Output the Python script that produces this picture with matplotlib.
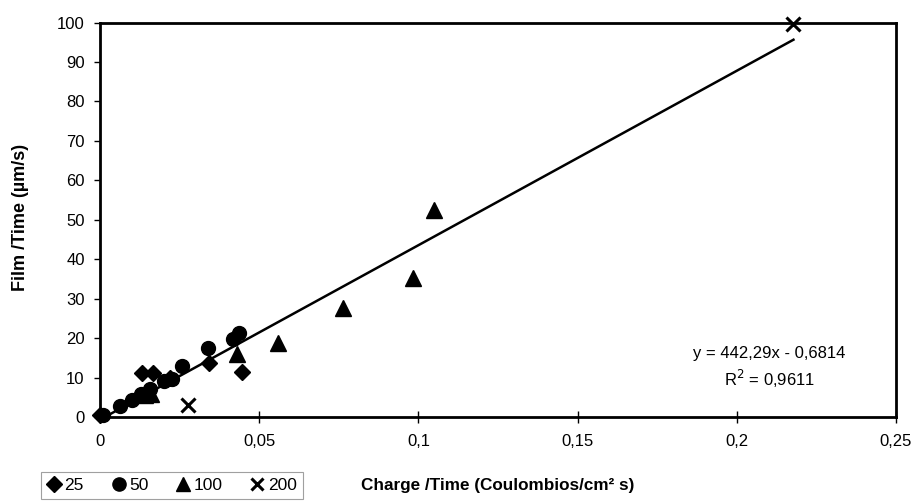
import matplotlib
matplotlib.use("Agg")
import matplotlib.pyplot as plt
from matplotlib.ticker import FuncFormatter, MultipleLocator
import numpy as np

plt.rcParams['font.family'] = ['Liberation Sans', 'DejaVu Sans']

# series (x: C/cm2 s, y: um/s)
x25 = [0.0, 0.0131, 0.0167, 0.0220, 0.0342, 0.0445]
y25 = [0.5, 11.2, 11.2, 9.8, 13.7, 11.3]

x50 = [0.001, 0.0063, 0.0100, 0.0130, 0.0157, 0.0200, 0.0225, 0.0259, 0.0340, 0.0419, 0.0437]
y50 = [0.5, 2.9, 4.3, 5.8, 7.1, 9.2, 9.6, 12.9, 17.4, 19.8, 21.4]

x100 = [0.0140, 0.0160, 0.0429, 0.0558, 0.0764, 0.0984, 0.1050]
y100 = [5.5, 5.8, 15.9, 18.8, 27.6, 35.2, 52.5]

x200 = [0.0277, 0.2178]
y200 = [3.0, 99.7]

slope = 442.29
intercept = -0.6814
r2 = 0.9611

fig = plt.figure(figsize=(9.14, 5.01), dpi=100)
ax = fig.add_axes([0.1094, 0.1677, 0.8709, 0.7873])

ax.plot(x25, y25, linestyle='none', marker='D', ms=8.5, color='black', label='25', clip_on=False)
ax.plot(x50, y50, linestyle='none', marker='o', ms=10, color='black', label='50', clip_on=False)
ax.plot(x100, y100, linestyle='none', marker='^', ms=11, color='black', label='100', clip_on=False)
ax.plot(x200, y200, linestyle='none', marker='x', ms=9.5, mew=2.2, color='black', label='200',
        clip_on=False)

xall = np.concatenate([x25, x50, x100, x200])
xf = np.array([0.0, xall.max()])
ax.plot(xf, slope * xf + intercept, color='black', lw=1.8)

ax.set_xlim(0, 0.25)
ax.set_ylim(0, 100)
ax.xaxis.set_major_locator(MultipleLocator(0.05))
ax.yaxis.set_major_locator(MultipleLocator(10))
fmt = FuncFormatter(lambda v, _: ('%g' % round(v, 4)).replace('.', ','))
ax.xaxis.set_major_formatter(fmt)
ax.yaxis.set_major_formatter(fmt)

for s in ax.spines.values():
    s.set_linewidth(2)
    s.set_color('black')
ax.tick_params(axis='x', direction='inout', length=8, width=1, labelsize=12, pad=8)
ax.tick_params(axis='y', direction='out', length=4, width=1, labelsize=12, pad=7)

ax.text(0.2101, 16.2, 'y = 442,29x - 0,6814', ha='center', va='center', fontsize=12)
ax.text(0.2104, 9.6, 'R$^2$ = 0,9611', ha='center', va='center', fontsize=12)

fig.text(0.545, 0.03, 'Charge /Time (Coulombios/cm² s)', ha='center', va='center',
         fontsize=12.3, fontweight='bold')
fig.text(0.022, 0.565, 'Film /Time (µm/s)', ha='center', va='center', rotation=90,
         fontsize=13, fontweight='bold')

leg = fig.legend(loc='upper left', bbox_to_anchor=(0.045, 0.058), ncol=4, fontsize=12.5,
                 frameon=True, fancybox=False, handlelength=0.8, handletextpad=0.2,
                 columnspacing=1.6, borderpad=0.35, borderaxespad=0, markerscale=0.95)
leg.get_frame().set_edgecolor('#888888')
leg.get_frame().set_linewidth(0.8)

fig.savefig('out.png', dpi=100)
